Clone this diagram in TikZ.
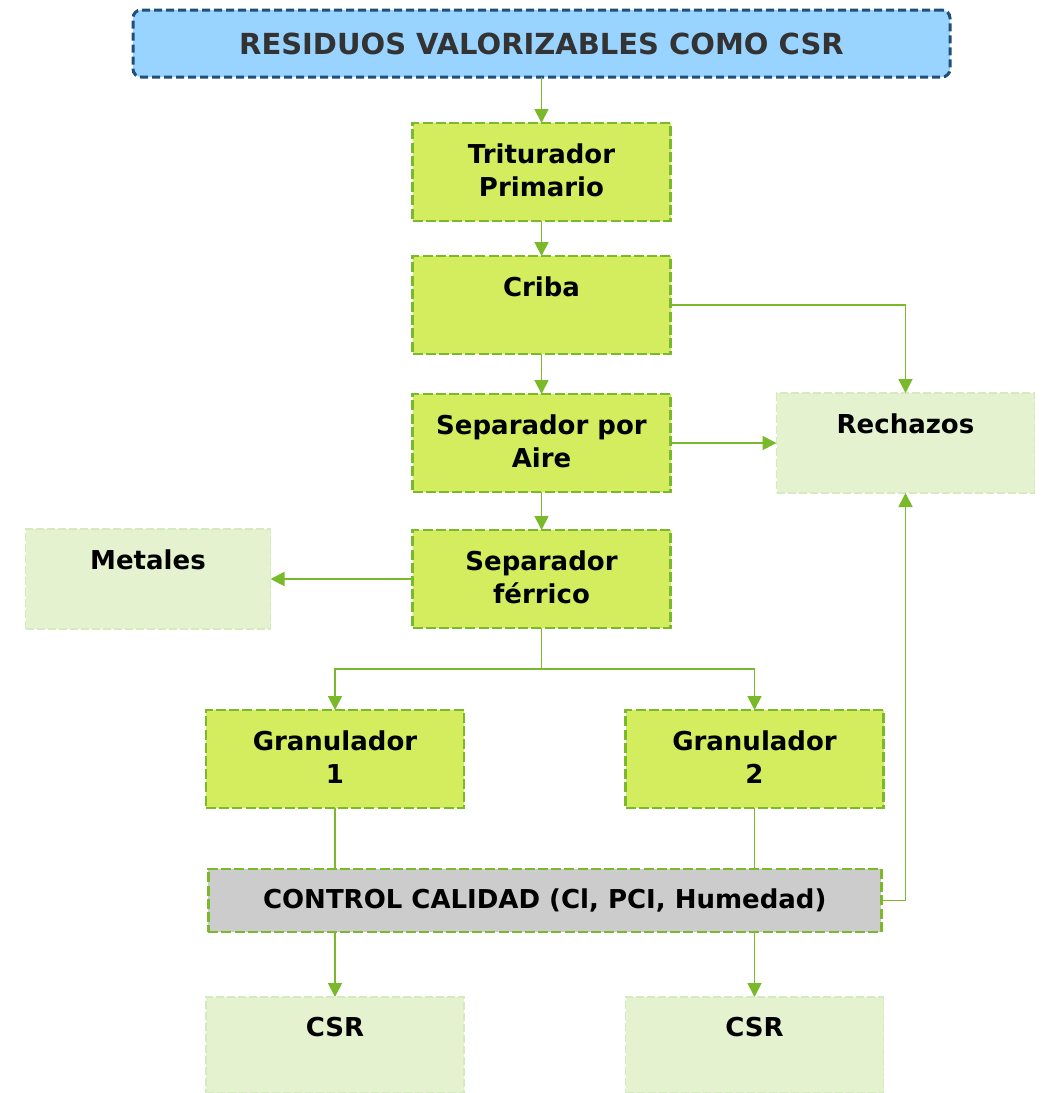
\documentclass[tikz,border=0pt]{standalone}
\usepackage{fontspec}
\setmainfont{DejaVu Sans}
\usepackage{tikz}
\usetikzlibrary{arrows.meta,calc,positioning}

\definecolor{azulfondo}{HTML}{99D3FF}
\definecolor{azulborde}{HTML}{1F4E79}
\definecolor{titulotexto}{HTML}{333333}
\definecolor{verdefondo}{HTML}{D4ED5F}
\definecolor{verdeborde}{HTML}{7AB929}
\definecolor{pastelfondo}{HTML}{E4F2D0}
\definecolor{pastelborde}{HTML}{D6EABF}
\definecolor{grisfondo}{HTML}{CCCCCC}

\begin{document}
\begin{tikzpicture}[x=0.5pt,y=-0.5pt,>={Triangle[length=7pt,width=7pt]},
	titulo/.style={draw=azulborde,fill=azulfondo,rounded corners=4pt,line width=1.5pt,dash pattern=on 4pt off 2pt,minimum width=408.5pt,minimum height=33.5pt,inner sep=0pt,outer sep=0pt,text=titulotexto,font=\fontsize{14.5}{17}\selectfont\bfseries},
	etapa/.style={draw=verdeborde,fill=verdefondo,line width=1.3pt,dash pattern=on 5pt off 1.6pt,minimum width=129pt,minimum height=49pt,inner sep=0pt,outer sep=0pt},
	salida/.style={draw=pastelborde,fill=pastelfondo,line width=0.8pt,dash pattern=on 4pt off 1.5pt,minimum width=129pt,minimum height=50pt,inner sep=0pt,outer sep=0pt},
	control/.style={draw=verdeborde,fill=grisfondo,line width=1.3pt,dash pattern=on 5pt off 1.6pt,minimum width=336.5pt,minimum height=31.5pt,inner sep=0pt,outer sep=0pt,font=\fontsize{13}{16.5}\selectfont\bfseries},
	txt/.style={anchor=north,yshift=-10pt,align=center,inner sep=0pt,font=\fontsize{13}{16.5}\selectfont\bfseries},
	flecha/.style={->,draw=verdeborde,line width=0.9pt},
	linea/.style={draw=verdeborde,line width=0.9pt}]
		\useasboundingbox (0,0) rectangle (1041,1093);
		\node[titulo] (titulo) at (541.5,43.5) {RESIDUOS VALORIZABLES COMO CSR};
		\node[etapa,below=23pt of titulo,label={[txt]north:{Triturador\\Primario}}] (trit) {};
		\node[etapa,below=17.5pt of trit,label={[txt]north:Criba}] (criba) {};
		\node[etapa,below=20pt of criba,label={[txt]north:{Separador por\\Aire}}] (aire) {};
		\node[etapa,below=19pt of aire,label={[txt]north:{Separador\\férrico}}] (ferr) {};
		\node[salida,right=53pt of aire,label={[txt]north:Rechazos}] (rech) {};
		\node[salida,minimum width=122.5pt,left=71pt of ferr,label={[txt]north:Metales}] (metales) {};
		\node[etapa,below=41pt of ferr,xshift=-103.25pt,label={[txt]north:{Granulador\\1}}] (gran1) {};
		\node[etapa,below=41pt of ferr,xshift=106.5pt,label={[txt]north:{Granulador\\2}}] (gran2) {};
		\coordinate (medio) at ($(gran1.south)!0.5!(gran2.south)$);
		\node[control,below=30.5pt of medio] (control) {CONTROL CALIDAD (Cl, PCI, Humedad)};
		\node[salida,minimum height=48pt,below=94.5pt of gran1,label={[txt]north:CSR}] (csr1) {};
		\node[salida,minimum height=48pt,below=94.5pt of gran2,label={[txt]north:CSR}] (csr2) {};
		\coordinate[below=20.5pt of ferr] (rama);
		\draw[flecha] (titulo) -- (trit);
		\draw[flecha] (trit) -- (criba);
		\draw[flecha] (criba) -- (aire);
		\draw[flecha] (criba.east) -| (rech.north);
		\draw[flecha] (aire) -- (rech);
		\draw[flecha] (aire) -- (ferr);
		\draw[flecha] (ferr) -- (metales);
		\draw[flecha] (ferr) -- (rama) -| (gran1);
		\draw[flecha] (rama) -| (gran2);
		\draw[linea] (gran1) -- (gran1 |- control.north);
		\draw[linea] (gran2) -- (gran2 |- control.north);
		\draw[flecha] (control.east) -| (rech.south);
		\draw[flecha] (csr1 |- control.south) -- (csr1);
		\draw[flecha] (csr2 |- control.south) -- (csr2);
	\end{tikzpicture}
\end{document}
